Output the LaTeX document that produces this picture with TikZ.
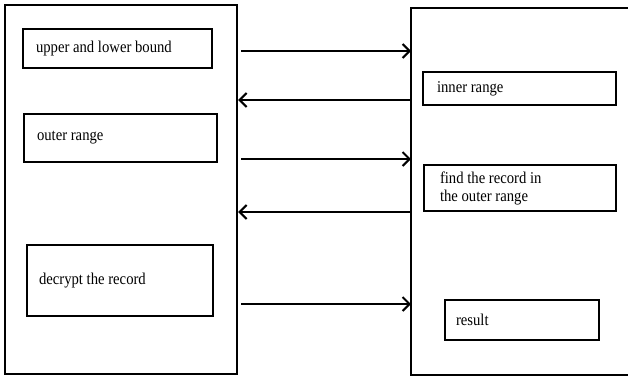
\documentclass[tikz,border=0pt]{standalone}
\usepackage{fontspec}
\setmainfont{Liberation Serif}[FakeStretch=0.89]
\usetikzlibrary{arrows.meta}
\begin{document}
\begin{tikzpicture}[x=1pt,y=-1pt,
  bigbox/.style={draw,line width=2.4pt,inner sep=0pt},
  stepbox/.style={draw,line width=2.4pt,rectangle,align=flush left,font=\fontsize{16.5}{18}\selectfont,inner ysep=0pt,execute at begin node={\spaceskip=0pt\xspaceskip=0pt\relax}},
  arr/.style={line width=2pt,-{Straight Barb[length=7pt,width=14pt,line width=2pt]}}]
\useasboundingbox (0,0) rectangle (628,376);
% big boxes
\node[bigbox,minimum width=232pt,minimum height=369pt] (L) at (121,189.5) {};
\draw[line width=2.4pt] (640,8) -- (411,8) -- (411,375) -- (640,375);
\coordinate (R) at (411,190);
% left inner boxes
\node[stepbox,minimum width=189pt,minimum height=39pt,inner xsep=13pt,text width=163pt] (ub) at (117.5,48.5) {upper and lower bound};
\node[stepbox,minimum width=193pt,minimum height=48pt,inner xsep=13pt,text width=167pt] (or) at (120.5,138) {outer range};
\node[stepbox,minimum width=186pt,minimum height=71pt,inner xsep=12pt,text width=162pt] (dr) at (120,280.5) {decrypt the record};
% right inner boxes
\node[stepbox,minimum width=193pt,minimum height=33pt,inner xsep=14pt,text width=165pt] (ir) at (519.5,88.5) {inner range};
\node[stepbox,minimum width=192pt,minimum height=46pt,inner xsep=16pt,text width=160pt] (fr) at (520,188) {find the record in\\the outer range};
\node[stepbox,minimum width=154pt,minimum height=40pt,inner xsep=11pt,text width=132pt] (rs) at (522,320) {result};
% arrows
\draw[arr] ([xshift=3pt]L.east |- 0,51) -- (R |- 0,51);
\draw[arr] (R |- 0,100) -- (L.east |- 0,100);
\draw[arr] ([xshift=3pt]L.east |- 0,159) -- (R |- 0,159);
\draw[arr] (R |- 0,212) -- (L.east |- 0,212);
\draw[arr] ([xshift=3pt]L.east |- 0,304) -- (R |- 0,304);
\end{tikzpicture}
\end{document}
